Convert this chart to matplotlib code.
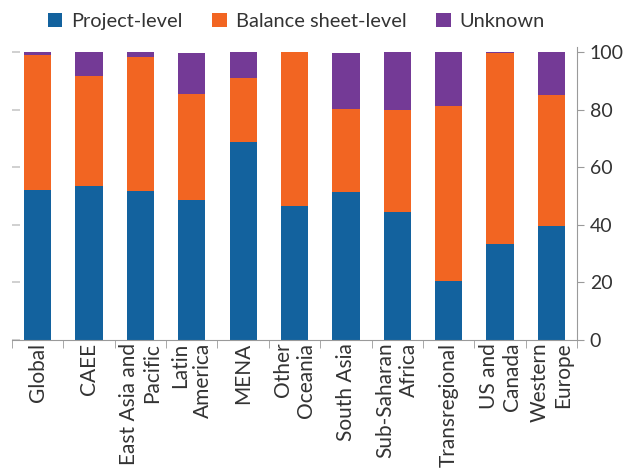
import numpy as np
import matplotlib
matplotlib.use("Agg")
import matplotlib.pyplot as plt

plt.rcParams['font.family'] = ['Lato', 'DejaVu Sans']

regions = ["Global", "CAEE", "East Asia and\nPacific", "Latin\nAmerica", "MENA",
           "Other\nOceania", "South Asia", "Sub-Saharan\nAfrica", "Transregional",
           "US and\nCanada", "Western\nEurope"]
project = [52.1, 53.5, 51.7, 48.6, 68.8, 46.5, 51.4, 44.4, 20.5, 33.3, 39.6]
balance = [46.9, 38.2, 46.6, 36.8, 22.2, 53.5, 28.8, 35.5, 60.8, 66.4, 45.5]
unknown = [1.0, 8.3, 1.7, 14.3, 9.0, 0.0, 19.5, 20.1, 18.7, 0.3, 14.9]

colors = {"Project-level": "#13629E", "Balance sheet-level": "#F26522", "Unknown": "#743A96"}
text_col = "#333333"
axis_col = "#9a9a9a"

fig = plt.figure(figsize=(6.24, 4.74), dpi=100)
ax = fig.add_axes([0.019, 0.283, 0.906, 0.617])

x = np.arange(len(regions))
w = 0.53
b1 = np.array(project)
b2 = b1 + np.array(balance)
ax.bar(x, project, w, color=colors["Project-level"], label="Project-level")
ax.bar(x, balance, w, bottom=b1, color=colors["Balance sheet-level"], label="Balance sheet-level")
ax.bar(x, unknown, w, bottom=b2, color=colors["Unknown"], label="Unknown")

ax.set_xlim(-0.5, len(regions) - 0.5)
ax.set_ylim(0, 101.7)

# y axis on the right
ax.yaxis.tick_right()
ax.set_yticks(np.arange(0, 101, 20))
ax.tick_params(axis='y', which='major', direction='out',
               length=5, color=axis_col, labelsize=14, labelcolor=text_col, pad=4)
for side in ["top", "left"]:
    ax.spines[side].set_visible(False)
ax.spines["right"].set_color(axis_col)
ax.spines["bottom"].set_color(axis_col)

# short marks on the left edge
left = ax.secondary_yaxis('left')
left.set_yticks(np.arange(0, 101, 20))
left.set_yticklabels([])
left.tick_params(direction='in', length=6, color='#c8c8c8', width=1.2)
left.spines['left'].set_visible(False)

# x ticks: labels at centres, small marks between categories
ax.set_xticks(x)
ax.set_xticklabels(regions, rotation=90, fontsize=15, color=text_col,
                   ha='center', va='top', multialignment='right')
ax.tick_params(axis='x', which='major', length=0, pad=2)
ax.set_xticks(np.arange(-0.5, len(regions), 1), minor=True)
ax.tick_params(axis='x', which='minor', length=6, color=axis_col, direction='out')

handles, labels = ax.get_legend_handles_labels()
fig.legend(handles, labels, loc='upper center', bbox_to_anchor=(0.475, 1.0), ncol=3,
           frameon=False, fontsize=14.4, handlelength=0.72, handleheight=0.72,
           handletextpad=0.45, columnspacing=1.5, labelcolor=text_col,
           borderaxespad=0.25)

fig.savefig("out.png", dpi=100)
